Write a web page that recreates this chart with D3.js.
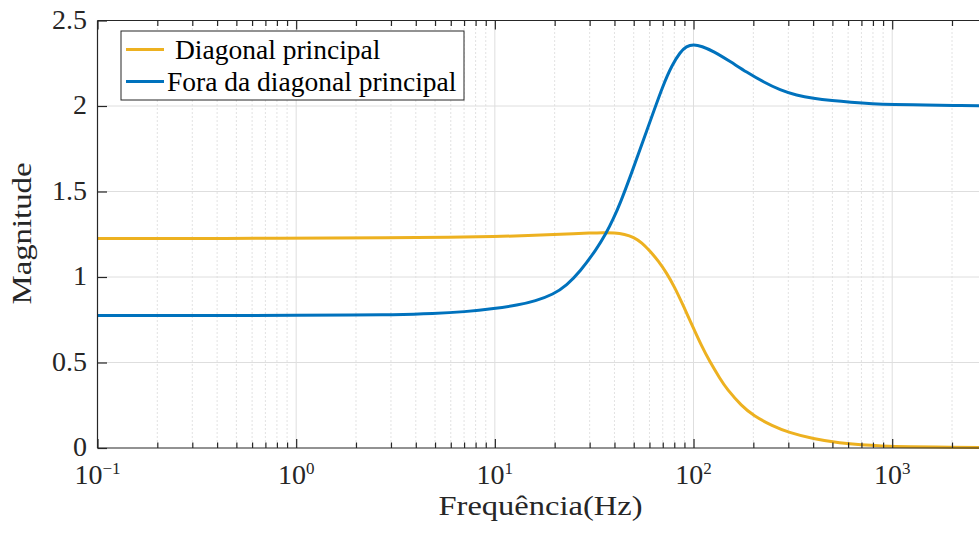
<!DOCTYPE html>
<html>
<head>
<meta charset="utf-8">
<script src="https://cdn.jsdelivr.net/npm/d3@7"></script>
<style>
  html, body { margin: 0; padding: 0; background: #fff; }
  svg { display: block; }
</style>
</head>
<body>
<svg id="chart" width="979" height="534"></svg>
<script>
// ---- Data ----
const diagFreq = [0.1, 1, 3, 6, 10, 15, 20, 25, 30, 35, 40, 45, 50, 55, 60, 67, 73, 80, 89, 100, 110, 120, 136, 147, 175, 200, 250, 300, 400, 550, 700, 870, 1200, 2000, 3000];
const diagMag  = [1.225, 1.226, 1.229, 1.232, 1.236, 1.242, 1.248, 1.253, 1.257, 1.26, 1.259, 1.25, 1.233, 1.20, 1.155, 1.09, 1.025, 0.945, 0.83, 0.70, 0.595, 0.51, 0.405, 0.345, 0.245, 0.19, 0.128, 0.092, 0.053, 0.028, 0.018, 0.012, 0.007, 0.004, 0.003];

const offFreq = [0.1, 0.5, 1, 2, 3, 5, 7, 10, 13, 16, 19.7, 23, 26.8, 32.6, 36.3, 39.5, 42.7, 48, 58.2, 70.6, 78, 85.7, 92, 100, 110, 126, 153, 185, 225, 273, 330, 400, 500, 614, 800, 1000, 1500, 2000, 3000];
const offMag  = [0.775, 0.775, 0.776, 0.777, 0.779, 0.786, 0.796, 0.815, 0.835, 0.86, 0.898, 0.952, 1.03, 1.165, 1.255, 1.34, 1.43, 1.585, 1.857, 2.13, 2.24, 2.315, 2.35, 2.36, 2.35, 2.32, 2.26, 2.198, 2.14, 2.093, 2.062, 2.044, 2.031, 2.022, 2.013, 2.009, 2.005, 2.003, 2.001];

const seriesNames = ["Diagonal principal", "Fora da diagonal principal"];
const seriesColors = ["#EDB120", "#0072BD"];

const yTicks = [0, 0.5, 1, 1.5, 2, 2.5];
const yTickLabels = ["0", "0.5", "1", "1.5", "2", "2.5"];
const xDecades = [0.1, 1, 10, 100, 1000];
const xExponents = ["\u22121", "0", "1", "2", "3"];

const xLabel = "Frequência(Hz)";
const yLabel = "Magnitude";

// ---- Layout ----
const W = 979, H = 534;
const L = 97.5, T = 20.5, B = 448;
const decadePx = 198.675;
const axisColor = "#262626";
const fontFam = "'Liberation Serif', 'Times New Roman', serif";

const svg = d3.select("#chart");
svg.append("rect").attr("width", W).attr("height", H).attr("fill", "#fff");

const x = d3.scaleLog().domain([0.1, 10000]).range([L, L + 5 * decadePx]);
const y = d3.scaleLinear().domain([0, 2.5]).range([B, T]);

const defs = svg.append("defs");
defs.append("clipPath").attr("id", "plotclip")
  .append("rect").attr("x", L).attr("y", T - 2).attr("width", W - L).attr("height", B - T + 4);

const minorVals = [];
xDecades.concat([10000]).forEach(d => {
  for (let k = 2; k <= 9; k++) minorVals.push(d * k);
});
const minorVis = minorVals.filter(v => v < 10000);

const grid = svg.append("g").attr("clip-path", "url(#plotclip)");
grid.selectAll(".mgx").data(minorVis).enter().append("line")
  .attr("x1", d => x(d)).attr("x2", d => x(d))
  .attr("y1", T).attr("y2", B)
  .attr("stroke", "#c4c4c4").attr("stroke-width", 1)
  .attr("stroke-dasharray", "1,3");
grid.selectAll(".Mgx").data(xDecades.slice(1)).enter().append("line")
  .attr("x1", d => x(d)).attr("x2", d => x(d))
  .attr("y1", T).attr("y2", B)
  .attr("stroke", "#dedede").attr("stroke-width", 1);
grid.selectAll(".Mgy").data(yTicks.slice(1, -1)).enter().append("line")
  .attr("x1", L).attr("x2", W)
  .attr("y1", d => y(d)).attr("y2", d => y(d))
  .attr("stroke", "#dedede").attr("stroke-width", 1);

// ---- Lines ----
const lineGen = d3.line()
  .x(d => x(d[0])).y(d => y(d[1]))
  .curve(d3.curveBasis);

const plotG = svg.append("g").attr("clip-path", "url(#plotclip)");
const series = [
  diagFreq.map((f, i) => [f, diagMag[i]]),
  offFreq.map((f, i) => [f, offMag[i]])
];
series.forEach((s, i) => {
  plotG.append("path").datum(s)
    .attr("d", lineGen)
    .attr("fill", "none")
    .attr("stroke", seriesColors[i])
    .attr("stroke-width", 3)
    .attr("stroke-linejoin", "round");
});

// ---- Axes ----
const axG = svg.append("g").attr("clip-path", "url(#plotclip)");
svg.append("line").attr("x1", L).attr("x2", W).attr("y1", B).attr("y2", B)
  .attr("stroke", axisColor).attr("stroke-width", 1.2);
svg.append("line").attr("x1", L).attr("x2", W).attr("y1", T).attr("y2", T)
  .attr("stroke", axisColor).attr("stroke-width", 1.2);
svg.append("line").attr("x1", L).attr("x2", L).attr("y1", T).attr("y2", B)
  .attr("stroke", axisColor).attr("stroke-width", 1.2);

const xAxisMajorB = d3.axisBottom(x).tickValues(xDecades).tickSize(-9).tickFormat("");
const xAxisMinorB = d3.axisBottom(x).tickValues(minorVis).tickSize(-5.5).tickFormat("");
const xAxisMajorT = d3.axisTop(x).tickValues(xDecades).tickSize(-9).tickFormat("");
const xAxisMinorT = d3.axisTop(x).tickValues(minorVis).tickSize(-5.5).tickFormat("");
[[xAxisMajorB, B], [xAxisMinorB, B], [xAxisMajorT, T], [xAxisMinorT, T]].forEach(([ax, pos]) => {
  const g = axG.append("g").attr("transform", `translate(0,${pos})`).call(ax);
  g.select(".domain").remove();
  g.selectAll(".tick line").attr("stroke", axisColor).attr("stroke-width", 1.2);
});
const yAxis = d3.axisLeft(y).tickValues(yTicks).tickSize(-9.5).tickFormat("");
const yg = svg.append("g").attr("transform", `translate(${L},0)`).call(yAxis);
yg.select(".domain").remove();
yg.selectAll(".tick line").attr("stroke", axisColor).attr("stroke-width", 1.2);

// y tick labels
svg.selectAll(".ylab").data(yTicks).enter().append("text")
  .attr("x", 87).attr("y", d => y(d) + 8)
  .attr("text-anchor", "end")
  .attr("font-family", fontFam).attr("font-size", 28)
  .attr("fill", axisColor)
  .text((d, i) => yTickLabels[i]);

// x tick labels 10^n
const xl = svg.selectAll(".xlab").data(xDecades).enter().append("text")
  .attr("x", d => x(d)).attr("y", 484)
  .attr("text-anchor", "middle")
  .attr("font-family", fontFam).attr("font-size", 28)
  .attr("fill", axisColor);
xl.append("tspan").text("10");
xl.append("tspan").attr("font-size", 17).attr("dy", -10.5).text((d, i) => xExponents[i]);

// axis labels
svg.append("text").attr("x", 540.5).attr("y", 515)
  .attr("text-anchor", "middle")
  .attr("font-family", fontFam).attr("font-size", 28)
  .attr("textLength", 204).attr("lengthAdjust", "spacingAndGlyphs")
  .attr("fill", axisColor).text(xLabel);
svg.append("text")
  .attr("transform", `translate(31,233.5) rotate(-90)`)
  .attr("text-anchor", "middle")
  .attr("font-family", fontFam).attr("font-size", 28)
  .attr("textLength", 142).attr("lengthAdjust", "spacingAndGlyphs")
  .attr("fill", axisColor).text(yLabel);

// ---- Legend ----
const lg = svg.append("g");
lg.append("rect").attr("x", 121).attr("y", 31).attr("width", 343).attr("height", 69)
  .attr("fill", "#fff").attr("stroke", axisColor).attr("stroke-width", 1);
const legY = [49.5, 81.5];
const legTextX = [175, 167];
seriesNames.forEach((name, i) => {
  lg.append("line").attr("x1", 126).attr("x2", 164)
    .attr("y1", legY[i]).attr("y2", legY[i])
    .attr("stroke", seriesColors[i]).attr("stroke-width", 3);
  lg.append("text").attr("x", legTextX[i]).attr("y", legY[i] + 9.5)
    .attr("font-family", fontFam).attr("font-size", 27.5)
    .attr("fill", "#000").text(name);
});
</script>
</body>
</html>
